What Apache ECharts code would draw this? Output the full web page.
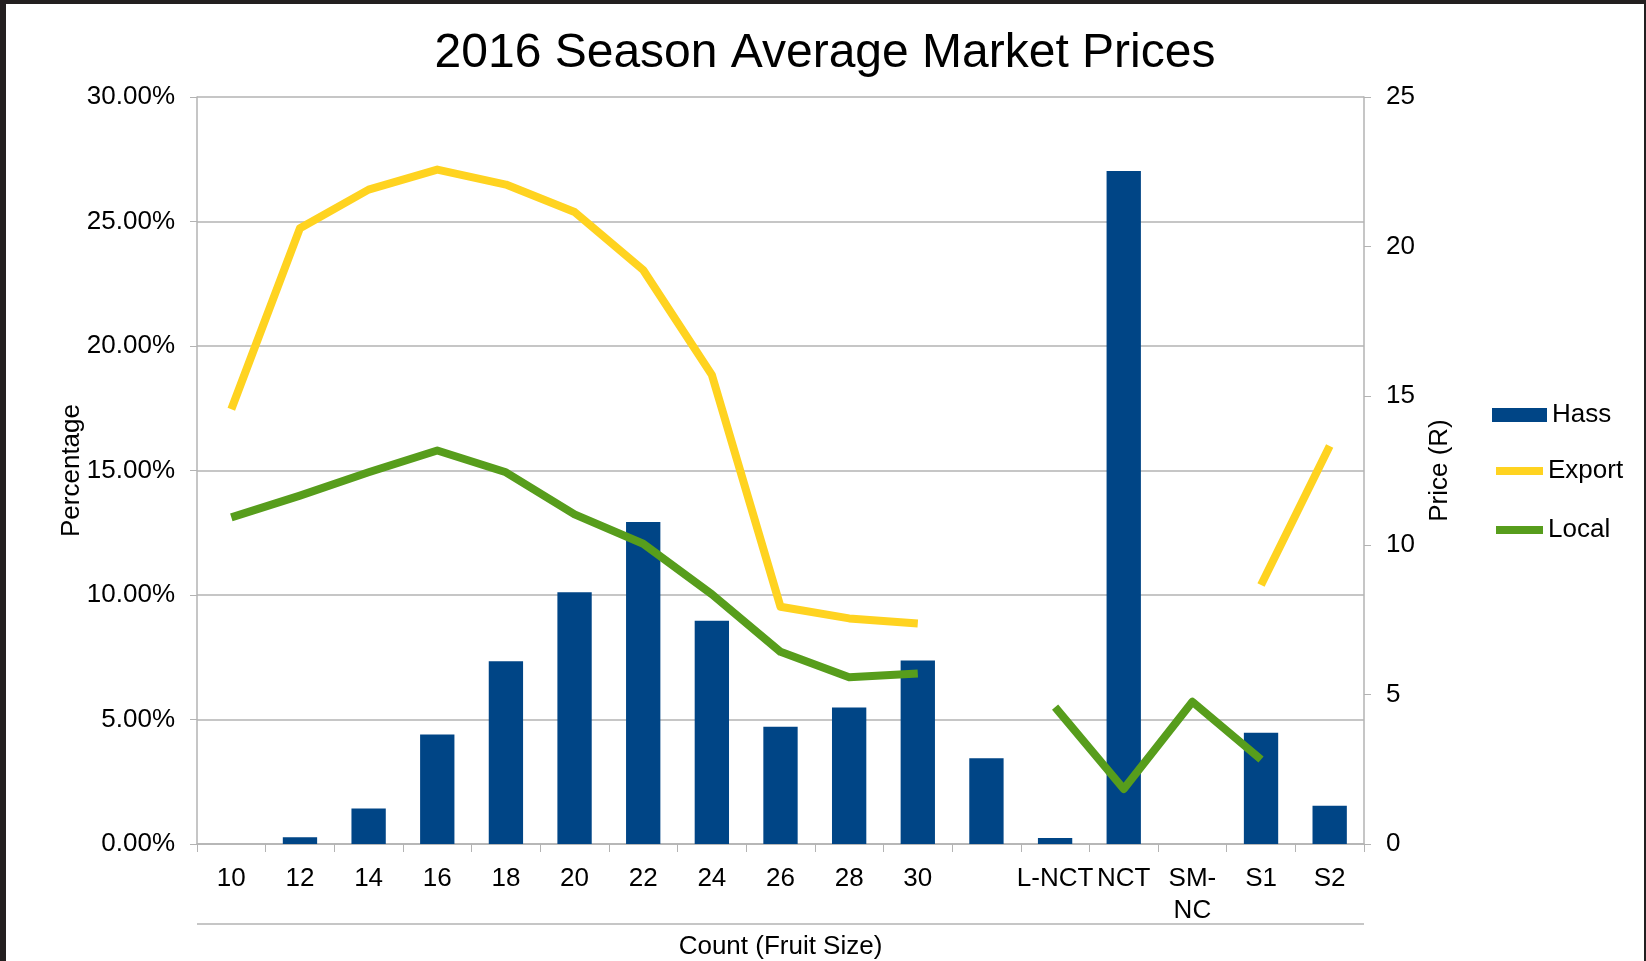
<!DOCTYPE html>
<html>
<head>
<meta charset="utf-8">
<title>2016 Season Average Market Prices</title>
<script src="https://cdn.jsdelivr.net/npm/echarts@6/dist/echarts.min.js"></script>
<style>
  html, body { margin: 0; padding: 0; background: #fff; }
  #chart { width: 1646px; height: 961px; }
</style>
</head>
<body>
<div id="chart"></div>
<script>
// fruit size counts along the x axis (blank slot kept as in the original)
var sizes = ['10', '12', '14', '16', '18', '20', '22', '24', '26', '28', '30', '', 'L-NCT', 'NCT', 'SM-NC', 'S1', 'S2'];

// Hass share per size, in percent
var hassPct = [0, 0.27, 1.43, 4.40, 7.34, 10.11, 12.93, 8.97, 4.71, 5.48, 7.37, 3.44, 0.24, 27.03, 0, 4.47, 1.54];

// average prices in Rand
var exportPrice = [14.55, 20.61, 21.90, 22.57, 22.07, 21.15, 19.21, 15.70, 7.94, 7.55, 7.38, null, null, null, null, 8.67, 13.32];
var localPrice = [10.93, 11.66, 12.44, 13.17, 12.44, 11.03, 10.05, 8.36, 6.43, 5.58, 5.71, null, 4.58, 1.84, 4.76, 2.83, null];

var pctTicks = { min: 0, max: 30, interval: 5 };
var priceTicks = { min: 0, max: 25, interval: 5 };

var font = "'Liberation Sans', Arial, sans-serif";
var gridGray = '#b3b3b3';
var fs = 26;

var chart = echarts.init(document.getElementById('chart'));

chart.setOption({
    backgroundColor: '#fff',
    animation: false,
    textStyle: { fontFamily: font, color: '#000' },
    title: {
        text: '2016 Season Average Market Prices',
        left: 820,
        textAlign: 'center',
        top: 25,
        textStyle: { fontFamily: font, fontSize: 48, fontWeight: 'normal', color: '#000' }
    },
    legend: [
        {
            data: ['Hass'],
            left: 1487, top: 395,
            itemWidth: 55, itemHeight: 14, itemGap: 0,
            icon: 'rect',
            textStyle: { fontFamily: font, fontSize: fs, color: '#000', lineHeight: 30 }
        },
        {
            data: ['Export'],
            left: 1491, top: 451,
            itemWidth: 47, itemHeight: 8, itemGap: 0,
            icon: 'rect',
            textStyle: { fontFamily: font, fontSize: fs, color: '#000', lineHeight: 30 }
        },
        {
            data: ['Local'],
            left: 1491, top: 510,
            itemWidth: 47, itemHeight: 8, itemGap: 0,
            icon: 'rect',
            textStyle: { fontFamily: font, fontSize: fs, color: '#000', lineHeight: 30 }
        }
    ],
    grid: { left: 197, right: 282, top: 97, bottom: 117, outerBoundsMode: 'none', containLabel: false },
    xAxis: {
        type: 'category',
        data: sizes,
        name: 'Count (Fruit Size)',
        nameLocation: 'middle',
        nameGap: 90,
        nameMoveOverlap: false,
        nameTextStyle: { fontFamily: font, fontSize: fs, color: '#000' },
        axisLine: { lineStyle: { color: gridGray, width: 1.5 } },
        axisTick: { show: true, interval: 0, length: 8, lineStyle: { color: gridGray } },
        axisLabel: {
            interval: 0,
            margin: 19,
            fontFamily: font,
            fontSize: fs,
            lineHeight: 32,
            color: '#000',
            formatter: function (v) { return v === 'SM-NC' ? 'SM-\nNC' : v; }
        }
    },
    yAxis: [
        {
            type: 'value',
            min: pctTicks.min, max: pctTicks.max, interval: pctTicks.interval,
            name: 'Percentage',
            nameLocation: 'middle',
            nameRotate: 90,
            nameGap: 112,
            nameMoveOverlap: false,
            nameTextStyle: { fontFamily: font, fontSize: fs, color: '#000' },
            axisLine: { show: true, lineStyle: { color: gridGray, width: 1.5 } },
            axisTick: { show: true, length: 7, lineStyle: { color: gridGray } },
            splitLine: { lineStyle: { color: gridGray, width: 1.5 } },
            axisLabel: {
                margin: 22,
                fontFamily: font, fontSize: fs, color: '#000',
                formatter: function (v) { return v.toFixed(2) + '%'; }
            }
        },
        {
            type: 'value',
            position: 'right',
            min: priceTicks.min, max: priceTicks.max, interval: priceTicks.interval,
            name: 'Price (R)',
            nameLocation: 'middle',
            nameRotate: 90,
            nameGap: 63,
            nameMoveOverlap: false,
            nameTextStyle: { fontFamily: font, fontSize: fs, color: '#000' },
            axisLine: { show: true, lineStyle: { color: gridGray, width: 1.5 } },
            axisTick: { show: true, length: 7, lineStyle: { color: gridGray } },
            splitLine: { show: false },
            axisLabel: { margin: 22, fontFamily: font, fontSize: fs, color: '#000' }
        }
    ],
    series: [
        {
            name: 'Hass',
            type: 'bar',
            yAxisIndex: 0,
            barWidth: '50%',
            itemStyle: { color: '#004586' },
            data: hassPct
        },
        {
            name: 'Export',
            type: 'line',
            yAxisIndex: 1,
            symbol: 'none',
            lineStyle: { color: '#ffd320', width: 8, join: 'round' },
            itemStyle: { color: '#ffd320' },
            data: exportPrice
        },
        {
            name: 'Local',
            type: 'line',
            yAxisIndex: 1,
            symbol: 'none',
            lineStyle: { color: '#579d1c', width: 8, join: 'round' },
            itemStyle: { color: '#579d1c' },
            data: localPrice
        }
    ],
    graphic: [
        // frame strips around the slide
        { type: 'rect', left: 0, top: 0, shape: { width: 6, height: 961 }, style: { fill: '#231f20' } },
        { type: 'rect', left: 0, top: 0, shape: { width: 1646, height: 4 }, style: { fill: '#231f20' } },
        { type: 'rect', left: 1644, top: 0, shape: { width: 2, height: 961 }, style: { fill: '#231f20' } },
        // line under the category labels
        { type: 'line', shape: { x1: 197, y1: 924, x2: 1364, y2: 924 }, style: { stroke: gridGray, lineWidth: 1.5 } }
    ]
});
</script>
</body>
</html>
